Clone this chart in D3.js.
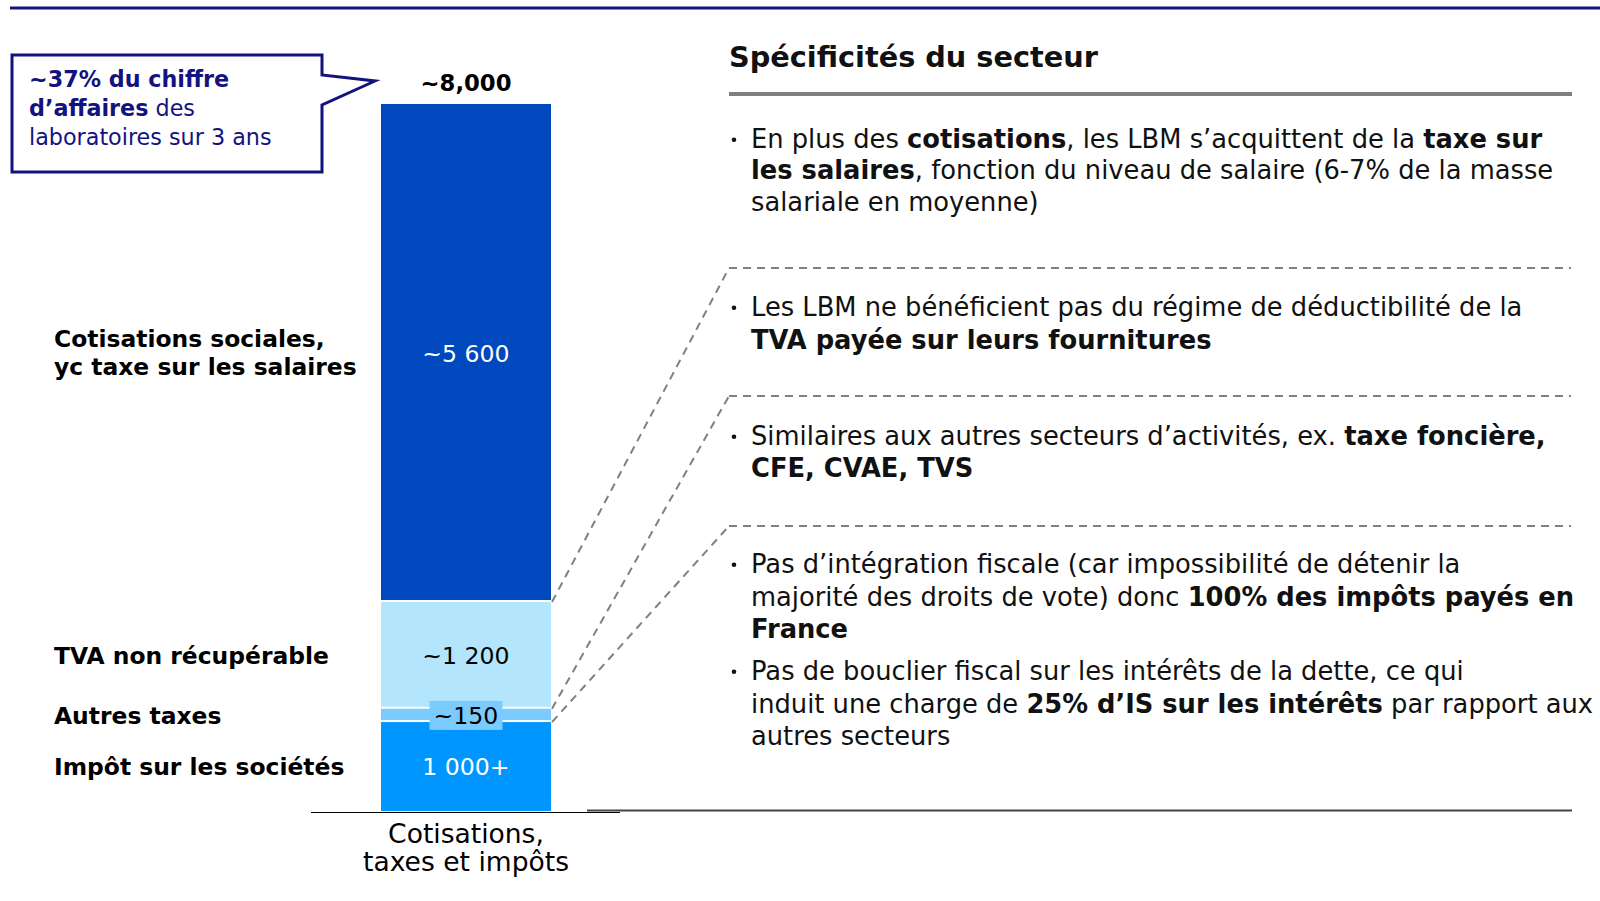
<!DOCTYPE html>
<html><head><meta charset="utf-8">
<script src="https://cdn.jsdelivr.net/npm/d3@7"></script>
<style>
body{margin:0;background:#fff}
svg{display:block}
text{font-family:"DejaVu Sans",sans-serif;white-space:pre}
</style>
</head><body>
<svg id="c" width="1600" height="901"></svg>
<script>
// ---------- data ----------
const categories = ["Cotisations, taxes et impôts"];
const segmentNames = [
  ["Impôt sur les sociétés"],
  ["Autres taxes"],
  ["TVA non récupérable"],
  ["Cotisations sociales,", "yc taxe sur les salaires"]
];
const segmentValues = [1000, 150, 1200, 5600];
const segmentLabels = ["1 000+", "~150", "~1 200", "~5 600"];
const totalLabel = "~8,000";
const calloutLines = [
  [["~37% du chiffre", true]],
  [["d’affaires", true], [" des", false]],
  [["laboratoires sur 3 ans", false]]
];
const panelTitle = "Spécificités du secteur";
const bullets = [
  [
    [["En plus des ", false], ["cotisations", true], [", les LBM s’acquittent de la ", false], ["taxe sur", true]],
    [["les salaires", true], [", fonction du niveau de salaire (6-7% de la masse", false]],
    [["salariale en moyenne)", false]]
  ],
  [
    [["Les LBM ne bénéficient pas du régime de déductibilité de la", false]],
    [["TVA payée sur leurs fournitures", true]]
  ],
  [
    [["Similaires aux autres secteurs d’activités, ex. ", false], ["taxe foncière,", true]],
    [["CFE, CVAE, TVS", true]]
  ],
  [
    [["Pas d’intégration fiscale (car impossibilité de détenir la", false]],
    [["majorité des droits de vote) donc ", false], ["100% des impôts payés en", true]],
    [["France", true]]
  ],
  [
    [["Pas de bouclier fiscal sur les intérêts de la dette, ce qui", false]],
    [["induit une charge de ", false], ["25% d’IS sur les intérêts", true], [" par rapport aux", false]],
    [["autres secteurs", false]]
  ]
];

// ---------- colours ----------
const navy = "#13137f";
const segColors = ["#0096ff", "#7ccbff", "#b3e6fd", "#0048bd"];
const segTextColors = ["#ffffff", "#000000", "#000000", "#ffffff"];

const svg = d3.select("#c");

function rich(g, x, y, segs, size) {
  const t = g.append("text").attr("x", x).attr("y", y).attr("font-size", size);
  segs.forEach(([s, b]) => t.append("tspan").attr("font-weight", b ? 700 : 400).text(s));
  return t;
}
function fit(nodes, pairs) {
  let tw = 0, mw = 0;
  pairs.forEach(([n, w]) => { tw += w; mw += n.getComputedTextLength(); });
  const fs = parseFloat(nodes[0].getAttribute("font-size"));
  const nfs = fs * tw / mw;
  nodes.forEach(n => n.setAttribute("font-size", nfs));
  return nfs;
}

// top rule
svg.append("line").attr("x1", 10).attr("x2", 1600).attr("y1", 8).attr("y2", 8)
  .attr("stroke", navy).attr("stroke-width", 3);

// ---------- scales ----------
const total = d3.sum(segmentValues);
const x = d3.scaleBand().domain(categories).range([381, 551]).padding(0);
const y = d3.scaleLinear().domain([0, total]).range([811, 104]);
const cum = [0, ...d3.cumsum(segmentValues)];
const segs = segmentValues.map((v, i) => ({ i, v, y0: cum[i], y1: cum[i + 1], label: segmentLabels[i], name: segmentNames[i] }));

const bars = svg.append("g");
bars.selectAll("rect").data(segs).join("rect")
  .attr("x", x(categories[0]))
  .attr("width", x.bandwidth())
  .attr("y", d => y(d.y1))
  .attr("height", d => y(d.y0) - y(d.y1) - (d.i === 0 ? 0 : 2))
  .attr("fill", d => segColors[d.i]);

const cx = x(categories[0]) + x.bandwidth() / 2;
const mid = d => (y(d.y0) + y(d.y1)) / 2;

// value labels
const vl = bars.selectAll("text.v").data(segs).join("text").attr("class", "v")
  .attr("x", cx).attr("y", d => mid(d)).attr("dy", "0.36em")
  .attr("text-anchor", "middle").attr("font-size", 25)
  .attr("fill", d => segTextColors[d.i]).text(d => d.label);
fit(vl.nodes(), [[vl.nodes()[3], 87], [vl.nodes()[2], 87], [vl.nodes()[0], 88]]);
const small = segs[1];
bars.insert("rect", "text.v").attr("x", cx - 36.5).attr("width", 73)
  .attr("y", mid(small) - 14.5).attr("height", 29).attr("fill", segColors[1]);

// total label
const tl = svg.append("text").attr("x", cx).attr("y", y(total) - 13)
  .attr("text-anchor", "middle").attr("font-size", 26).attr("font-weight", 700).text(totalLabel);
fit([tl.node()], [[tl.node(), 91]]);

// left labels
const ll = svg.append("g");
const lnodes = [];
segs.forEach(d => {
  const n = d.name.length;
  d.name.forEach((line, k) => {
    const t = ll.append("text").attr("x", 54)
      .attr("y", mid(d) + (k - (n - 1) / 2) * 28).attr("dy", "0.36em")
      .attr("font-size", 24).attr("font-weight", 700).text(line);
    lnodes.push(t.node());
  });
});
fit(lnodes, [[lnodes[4], 302], [lnodes[0], 291]]);

// axis
const ax = svg.append("g").attr("transform", "translate(0,812)")
  .call(d3.axisBottom(x).tickSize(0));
ax.select(".domain").remove();
ax.selectAll(".tick text").each(function (c) {
  const t = d3.select(this).attr("y", 0).attr("dy", null).text(null)
    .attr("fill", "#000").attr("font-size", 24).attr("font-family", null);
  const parts = c.split(", ");
  parts.forEach((p, k) => t.append("tspan").attr("x", 0).attr("y", 31 + k * 28)
    .text(k < parts.length - 1 ? p + "," : p));
});
{
  const tickText = ax.select(".tick text").node();
  const sp = ax.selectAll(".tick text tspan").nodes();
  const w = sp[1].getComputedTextLength();
  tickText.setAttribute("font-size", 24 * 206 / w);
}
svg.append("line").attr("x1", 311).attr("x2", 620).attr("y1", 812.5).attr("y2", 812.5)
  .attr("stroke", "#000").attr("stroke-width", 1.2);
svg.append("line").attr("x1", 587).attr("x2", 1572).attr("y1", 810.5).attr("y2", 810.5)
  .attr("stroke", "#444").attr("stroke-width", 2);

// callout
const co = svg.append("g");
const bx0 = 12, bx1 = 322, by0 = 55, by1 = 172;
co.append("path")
  .attr("d", `M${bx0},${by0}H${bx1}V75L375,81L${bx1},105V${by1}H${bx0}Z`)
  .attr("fill", "#fff").attr("stroke", navy).attr("stroke-width", 3).attr("stroke-linejoin", "miter");
const cnodes = calloutLines.map((segsL, k) => rich(co, 29, 87 + k * 29, segsL, 23).attr("fill", navy).node());
fit(cnodes, [[cnodes[2], 263], [cnodes[0], 180]]);

// right panel
const rp = svg.append("g");
const tt = rp.append("text").attr("x", 729).attr("y", 67).attr("font-size", 30)
  .attr("font-weight", 700).attr("fill", "#111").text(panelTitle);
fit([tt.node()], [[tt.node(), 369]]);
rp.append("line").attr("x1", 729).attr("x2", 1572).attr("y1", 94).attr("y2", 94)
  .attr("stroke", "#7f7f7f").attr("stroke-width", 4);

const baselines = [[148, 179, 211], [316, 349], [445, 477], [573, 606, 638], [680, 713, 745]];
const bnodes = [];
bullets.forEach((b, bi) => {
  b.forEach((line, li) => {
    const t = rich(rp, 751, baselines[bi][li], line, 26).attr("fill", "#111");
    bnodes.push(t.node());
  });
});
const bfs = fit(bnodes, [[bnodes[0], 783], [bnodes[1], 807], [bnodes[3], 807], [bnodes[5], 800], [bnodes[8], 809], [bnodes[11], 819]]);
bullets.forEach((b, bi) => {
  rp.append("circle").attr("cx", 734).attr("cy", baselines[bi][0] - bfs * 0.32).attr("r", 2.3).attr("fill", "#111");
});

// separators and connectors
const sepY = [268, 396, 526];
const dash = "8,6";
sepY.forEach((sy, k) => {
  rp.append("line").attr("x1", 729).attr("x2", 1571).attr("y1", sy).attr("y2", sy)
    .attr("stroke", "#808080").attr("stroke-width", 2).attr("stroke-dasharray", dash);
  const seg = segs[2 - k];
  const by = y(seg.y1);
  rp.append("line").attr("x1", 552).attr("y1", by).attr("x2", 729).attr("y2", sy)
    .attr("stroke", "#808080").attr("stroke-width", 2).attr("stroke-dasharray", dash);
});
</script>
</body></html>
